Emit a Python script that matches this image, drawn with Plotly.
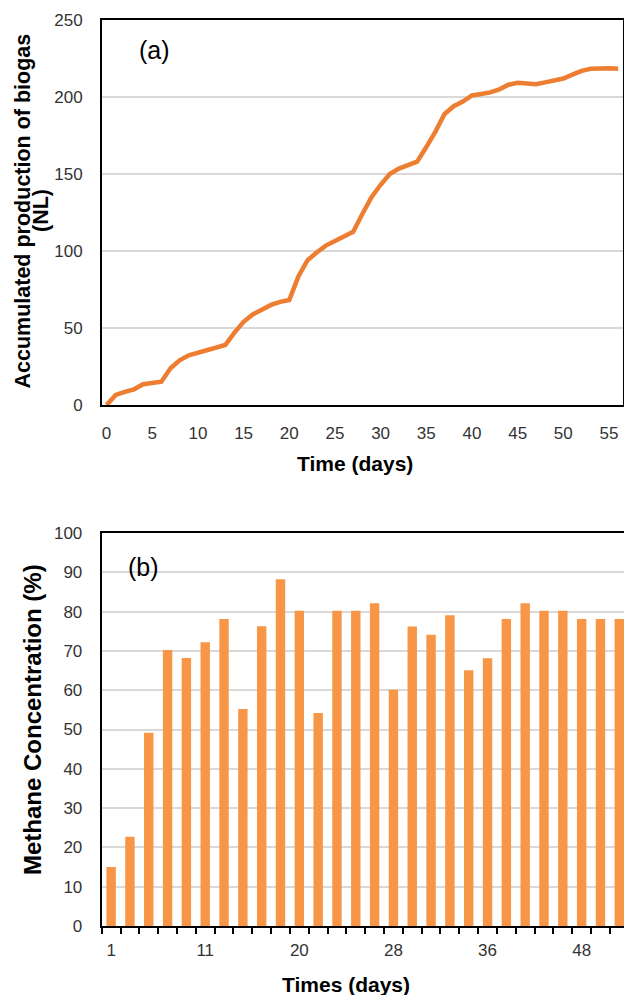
import plotly.graph_objects as go

# ---- Data: panel (a) accumulated biogas ----
days_a = list(range(0, 57))
biogas = [0, 6.5, 8.5, 10.2, 13.5, 14.3, 15.1, 23.8, 29, 32.3,
          34, 35.7, 37.8, 39, 47, 54, 58.8, 62, 65, 67,
          68.2, 83.5, 94, 99, 103.5, 106.5, 109.5, 112.5, 124, 135,
          143, 150, 153.5, 155.5, 158, 167.5, 177.5, 189, 194, 197,
          201, 202, 203, 205, 208, 209.3, 209, 208.3, 209.5, 210.8,
          212, 214.5, 217, 218.3, 218.6, 218.6, 218.3]

# ---- Data: panel (b) methane concentration ----
days_b = ["1", "3", "5", "7", "9", "11", "13", "15", "17", "18",
          "20", "22", "23", "25", "27", "28", "29", "31", "33", "34",
          "36", "38", "41", "43", "45", "48", "50", "52"]
methane = [15, 22.7, 49.2, 70.2, 68.2, 72.2, 78.1, 55.2, 76.3, 88.2,
           80.2, 54.2, 80.2, 80.2, 82.1, 60.1, 76.2, 74.1, 79.1, 65.1,
           68.1, 78.1, 82.1, 80.2, 80.2, 78.1, 78.1, 78.1]

W, H = 624, 995
def px(x):
    return x / W
def py(y):
    return 1 - y / H

FONT = "Liberation Sans, Arial, sans-serif"
TICKC = "#333333"
GRID = "#D9D9D9"

fig = go.Figure()
fig.add_trace(go.Scatter(x=days_a, y=biogas, mode="lines",
                         line=dict(color="#ED7D31", width=4.5),
                         xaxis="x", yaxis="y", showlegend=False))
fig.add_trace(go.Bar(x=days_b, y=methane, marker=dict(color="#F79646", line=dict(width=0)),
                     xaxis="x2", yaxis="y2", showlegend=False))

axfont = dict(family=FONT, size=17, color=TICKC)
LINE = dict(showline=True, linecolor="black", linewidth=2, automargin=False)

fig.update_layout(
    template="none",
    width=W, height=H,
    margin=dict(l=0, r=0, t=0, b=0, pad=0),
    paper_bgcolor="white", plot_bgcolor="white",
    font=dict(family=FONT),
    bargap=0.5,
    xaxis=dict(domain=[px(102), px(622.7)], anchor="y", range=[-0.5, 56.5],
               tickmode="linear", tick0=0, dtick=5, showgrid=False, zeroline=False,
               mirror=True, ticks="", tickangle=0, tickfont=axfont, ticklabelstandoff=12,
               **LINE),
    yaxis=dict(domain=[py(405), py(20)], anchor="x", range=[0, 250],
               tickmode="linear", tick0=0, dtick=50, showgrid=True, gridcolor=GRID,
               gridwidth=1.5, zeroline=False, mirror=True,
               ticks="", tickfont=axfont, ticklabelstandoff=14, **LINE),
    xaxis2=dict(domain=[px(101.7), 1.0], anchor="y2", type="category",
                range=[-0.5, 27.25], tickmode="linear", tick0=0, dtick=1,
                ticklabelstep=5, tickson="boundaries", ticks="outside", ticklen=6,
                tickwidth=1.5, tickcolor="black", tickangle=0, showgrid=False,
                zeroline=False, mirror=True, tickfont=axfont, ticklabelstandoff=8,
                **LINE),
    yaxis2=dict(domain=[py(926), py(533)], anchor="x2", range=[0, 100],
                tickmode="linear", tick0=0, dtick=10, showgrid=True, gridcolor=GRID,
                gridwidth=1.5, zeroline=False, mirror=False,
                ticks="", tickfont=axfont, ticklabelstandoff=14, **LINE),
)

tfont = dict(family=FONT, size=21, color="black")
ann = [
    dict(text="(a)", x=px(154), y=py(50), font=dict(family=FONT, size=25, color="black")),
    dict(text="(b)", x=px(143.7), y=py(566.7), font=dict(family=FONT, size=25, color="black")),
    dict(text="<b>Accumulated production of biogas</b>", x=px(22.5), y=py(211), textangle=-90,
         font=dict(family=FONT, size=21.5, color="black")),
    dict(text="<b>(NL)</b>", x=px(41), y=py(211), textangle=-90,
         font=dict(family=FONT, size=21.5, color="black")),
    dict(text="<b>Time (days)</b>", x=px(355), y=py(463.5), font=tfont),
    dict(text="<b>Methane Concentration (%)</b>", x=px(32), y=py(720), textangle=-90,
         font=dict(family=FONT, size=24, color="black")),
    dict(text="<b>Times (days)</b>", x=px(345.5), y=py(984), font=tfont),
]
for a in ann:
    a.update(xref="paper", yref="paper", xanchor="center", yanchor="middle", showarrow=False)
fig.update_layout(annotations=ann)

fig.write_html("out.html", config={"displayModeBar": False},
               post_script="document.body.style.margin='0px';")
